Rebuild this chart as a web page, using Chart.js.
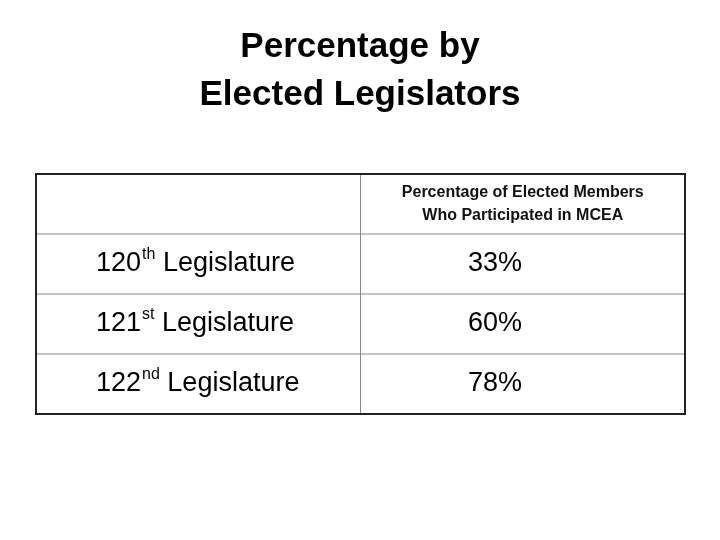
<!DOCTYPE html><html><head><script src="https://cdn.jsdelivr.net/npm/chart.js@4"></script>
<style>body{margin:0;background:#fff}</style></head><body>
<canvas id="c" width="720" height="540"></canvas>
<script>
const titleLines=["Percentage by","Elected Legislators"];
const headerLines=["Percentage of Elected Members","Who Participated in MCEA"];
const rowNumbers=["120","121","122"];
const rowSuffixes=["th","st","nd"];
const rowWord=" Legislature";
const values=[33,60,78];
const rowBounds=[0,1,2,3,4];
const colBounds=[0,1,2];
const tablePlugin={id:'tbl',afterDraw(ch){
 const c=ch.ctx,x=ch.scales.x,y=ch.scales.y;
 const X=v=>x.getPixelForValue(v),Y=v=>y.getPixelForValue(v);
 c.save();
 c.fillStyle='#000';c.textAlign='center';c.textBaseline='middle';
 c.font='bold 35px Liberation Sans, Arial';
 c.fillText(titleLines[0],360,47);c.fillText(titleLines[1],360,95);
 c.strokeStyle='#888';c.lineWidth=1;
 rowBounds.slice(1,-1).forEach(r=>{c.beginPath();c.moveTo(X(0),Y(r));c.lineTo(X(2),Y(r));c.stroke();});
 c.beginPath();c.moveTo(X(1),Y(0));c.lineTo(X(1),Y(4));c.stroke();
 c.strokeStyle='#222';c.lineWidth=2;
 c.strokeRect(X(0),Y(0),X(2)-X(0),Y(4)-Y(0));
 c.font='bold 16px Liberation Sans, Arial';c.fillStyle='#111';
 const hc=(X(1)+X(2))/2;
 c.fillText(headerLines[0],hc,Y(0.5)-11);c.fillText(headerLines[1],hc,Y(0.5)+12);
 c.fillStyle='#000';c.textAlign='left';
 rowNumbers.forEach((n,i)=>{
  const cy=Y(i+1.5);let px=96;
  c.font='27px Liberation Sans, Arial';c.fillText(n,px,cy);px+=c.measureText(n).width+1;
  c.font='16px Liberation Sans, Arial';c.fillText(rowSuffixes[i],px,cy-9);px+=c.measureText(rowSuffixes[i]).width;
  c.font='27px Liberation Sans, Arial';c.fillText(rowWord,px,cy);
  c.fillText(values[i]+'%',468,cy);
 });
 c.restore();}};
new Chart(document.getElementById('c'),{type:'scatter',data:{datasets:[{data:[]}]},
 options:{responsive:false,animation:false,layout:{padding:{left:36,right:35,top:174,bottom:126}},
 plugins:{legend:{display:false},tooltip:{enabled:false}},
 scales:{x:{type:'linear',min:0,max:2,display:false},y:{type:'linear',min:0,max:4,reverse:true,display:false}}},
 plugins:[tablePlugin]});
</script></body></html>
